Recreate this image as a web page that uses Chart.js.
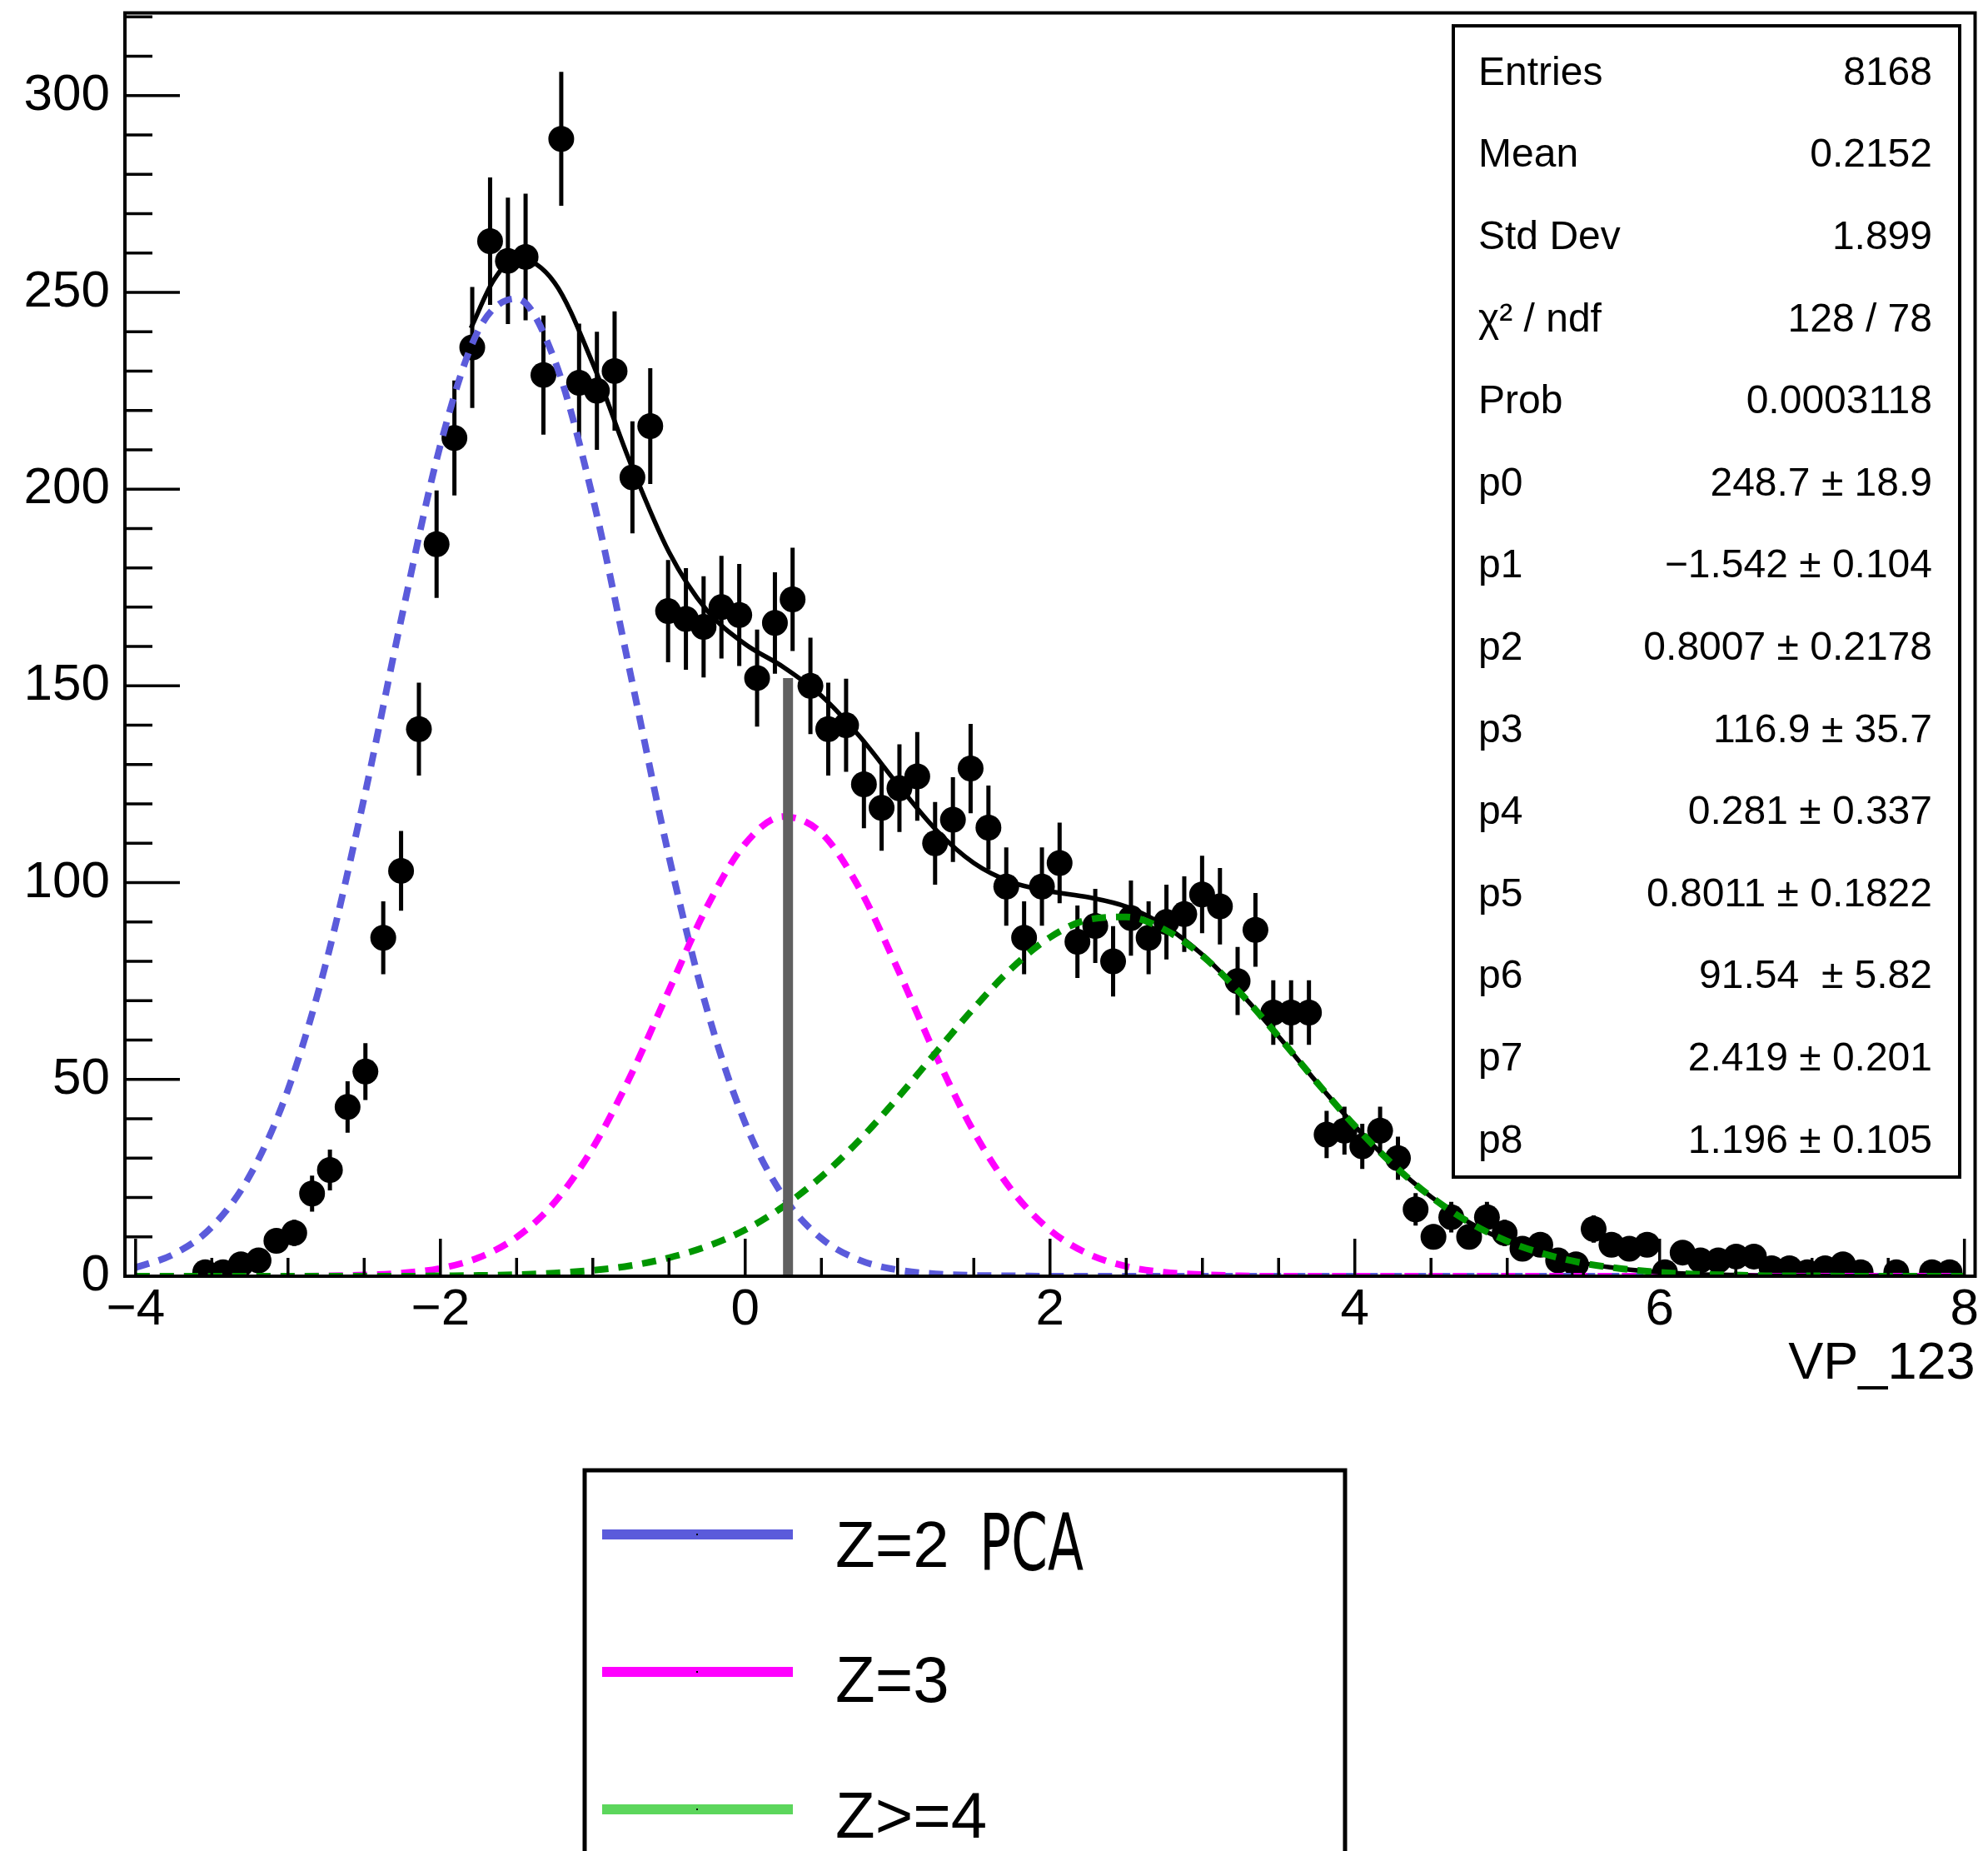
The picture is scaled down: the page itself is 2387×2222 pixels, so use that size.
<!DOCTYPE html>
<html>
<head>
<meta charset="utf-8">
<script src="https://cdn.jsdelivr.net/npm/chart.js@4.4.1/dist/chart.umd.min.js"></script>
<style>
html,body{margin:0;padding:0;background:#ffffff;overflow:hidden;}
canvas{display:block;}
</style>
</head>
<body>
<canvas id="c" width="2387" height="2222" style="width:2387px;height:2222px"></canvas>
<script>
// ---------- data ----------
const binCenters = [
 -3.543,-3.426,-3.309,-3.193,-3.076,-2.959,-2.842,-2.725,-2.609,-2.492,
 -2.375,-2.258,-2.141,-2.025,-1.908,-1.791,-1.674,-1.557,-1.441,-1.324,
 -1.207,-1.090,-0.973,-0.857,-0.740,-0.623,-0.506,-0.389,-0.273,-0.156,
 -0.039,0.078,0.195,0.311,0.428,0.545,0.662,0.779,0.895,1.012,
 1.129,1.246,1.363,1.479,1.596,1.713,1.830,1.947,2.063,2.180,
 2.297,2.414,2.531,2.647,2.764,2.881,2.998,3.115,3.231,3.348,
 3.465,3.582,3.699,3.815,3.932,4.049,4.166,4.283,4.399,4.516,
 4.633,4.750,4.867,4.983,5.100,5.217,5.334,5.451,5.567,5.684,
 5.801,5.918,6.035,6.151,6.268,6.385,6.502,6.619,6.735,6.852,
 6.969,7.086,7.203,7.319,7.436,7.553,7.670,7.787,7.903
];
const counts = [
 1,1,3,4,9,11,21,27,43,52,
 86,103,139,186,213,236,263,258,259,229,
 289,227,225,230,203,216,169,167,165,170,
 168,152,166,172,150,139,140,125,119,124,
 127,110,116,129,114,99,86,99,105,85,
 89,80,91,86,90,92,97,94,75,88,
 67,67,67,36,37,33,37,30,17,10,
 15,10,15,11,7,8,4,3,12,8,
 7,8,1,6,4,4,5,5,2,2,
 1,2,3,1,null,1,null,1,1
];

// dashed component curves, sampled along x
const curveX = [
 -4,-3.75,-3.5,-3.25,-3,-2.75,-2.5,-2.25,-2,-1.75,-1.5,-1.25,-1,-0.75,-0.5,-0.25,
 0,0.25,0.5,0.75,1,1.25,1.5,1.75,2,2.25,2.5,2.75,3,3.25,3.5,3.75,
 4,4.25,4.5,4.75,5,5.25,5.5,5.75,6,6.25,6.5,6.75,7,7.25,7.5,7.75,8
];
const curveZ2 = [
 2.2,5.6,12.5,25.6,47.4,79.7,121.6,168.2,211.2,240.4,248.4,232.7,197.8,152.5,106.6,67.7,
 38.9,20.3,9.6,4.1,1.6,0.6,0.2,0.1,0,0,0,0,0,0,0,0,
 0,0,0,0,0,0,0,0,0,0,0,0,0,0,0,0,0
];
const curveZ3 = [
 0,0,0,0,0,0.1,0.3,0.8,2.0,4.7,9.9,18.8,32.6,51.1,72.7,93.9,
 109.9,116.8,112.6,98.5,78.1,56.2,36.7,21.8,11.7,5.7,2.5,1.0,0.4,0.1,0,0,
 0,0,0,0,0,0,0,0,0,0,0,0,0,0,0,0,0
];
const curveZ4 = [
 0,0,0,0,0,0,0,0,0.1,0.2,0.4,0.8,1.5,2.7,4.7,7.6,
 11.8,17.7,25.3,34.6,45.3,56.8,68.1,78.3,86.1,90.6,91.3,88.1,81.4,71.9,60.9,49.3,
 38.2,28.4,20.2,13.7,8.9,5.6,3.3,1.9,1.0,0.5,0.3,0.1,0.1,0,0,0,0
];

// total fit (solid black)
const fitX = [
 -1.8,-1.65,-1.5,-1.25,-1,-0.75,-0.5,-0.25,0,0.25,0.5,0.75,1,1.25,1.5,1.75,
 2,2.25,2.5,2.75,3,3.25,3.5,3.75,4,4.25,4.5,4.75,5,5.25,5.5,5.75,
 6,6.25,6.5,6.75,7,7.25,7.5,7.75,8
];
const fitTotal = [
 240.9,253.1,258.7,252.4,231.9,206.3,184.0,169.1,160.6,154.8,147.5,137.2,125.0,113.5,105.0,100.1,
 97.8,96.3,93.9,89.1,81.7,72.0,60.9,49.3,38.2,28.4,20.2,13.7,8.9,5.6,3.3,1.9,
 1.0,0.5,0.3,0.1,0.1,0,0,0,0
];

// grey vertical marker
const markerX = [0.281, 0.281];
const markerY = [0, 152];

// axes
const xTicks = [-4, -2, 0, 2, 4, 6, 8];
const yTicks = [0, 50, 100, 150, 200, 250, 300];
const xTitle = 'VP_123';

// stats box
const statLabels = ['Entries','Mean','Std Dev','\u03c7\u00b2 / ndf','Prob','p0','p1','p2','p3','p4','p5','p6','p7','p8'];
const statValues = ['8168','0.2152','1.899','128 / 78','0.0003118',
 '248.7 \u00b1 18.9','\u22121.542 \u00b1 0.104','0.8007 \u00b1 0.2178','116.9 \u00b1 35.7',
 '0.281 \u00b1 0.337','0.8011 \u00b1 0.1822','91.54  \u00b1 5.82','2.419 \u00b1 0.201','1.196 \u00b1 0.105'];

// legend
const legendLabels = ['Z=2 PCA', 'Z=3', 'Z>=4'];
const legendColors = ['#5b5bdb', '#ff00ff', '#5cd65c'];

// ---------- drawing ----------
const FONT = "'Liberation Sans', Arial, Helvetica, sans-serif";
const fmtTick = v => (v < 0 ? '\u2212' + (-v) : String(v));
const toXY = (xa, ya) => xa.map((x, i) => ({x: x, y: ya[i]}));
const pointData = binCenters.map((x, i) => ({x: x, y: counts[i]})).filter(p => p.y !== null);
const DASH = [17, 12];

const rootPlugin = {
  id: 'rootStyle',
  beforeDatasetsDraw(chart) {
    const {ctx, chartArea: ca} = chart;
    const xs = chart.scales.x, ys = chart.scales.y;
    ctx.save();
    ctx.beginPath();
    ctx.rect(ca.left, ca.top, ca.right - ca.left, ca.bottom - ca.top);
    ctx.clip();
    ctx.strokeStyle = '#000';
    ctx.lineWidth = 5;
    binCenters.forEach((x, i) => {
      const n = counts[i];
      if (n === null) return;
      const e = Math.sqrt(n);
      const px = xs.getPixelForValue(x);
      ctx.beginPath();
      ctx.moveTo(px, ys.getPixelForValue(n - e));
      ctx.lineTo(px, ys.getPixelForValue(n + e));
      ctx.stroke();
    });
    ctx.restore();
  },
  afterDatasetsDraw(chart) {
    const {ctx, chartArea: ca} = chart;
    const xs = chart.scales.x, ys = chart.scales.y;
    ctx.save();
    // ticks
    ctx.strokeStyle = '#000';
    ctx.lineWidth = 3.5;
    for (let v = 0; v <= ys.max + 1e-9; v += 10) {
      const py = ys.getPixelForValue(v);
      const len = (v % 50 === 0) ? 66 : 33;
      ctx.beginPath(); ctx.moveTo(ca.left, py); ctx.lineTo(ca.left + len, py); ctx.stroke();
    }
    for (let v = -4; v <= 8 + 1e-9; v += 0.5) {
      const px = xs.getPixelForValue(v);
      const len = (Math.abs(v % 2) < 1e-9) ? 45 : 22;
      ctx.beginPath(); ctx.moveTo(px, ca.bottom); ctx.lineTo(px, ca.bottom - len); ctx.stroke();
    }
    // frame
    ctx.lineWidth = 4;
    ctx.strokeRect(ca.left, ca.top, ca.right - ca.left, ca.bottom - ca.top);

    // stats box
    const sb = {l: 1745, t: 31, r: 2353, b: 1413};
    ctx.fillStyle = '#fff';
    ctx.fillRect(sb.l, sb.t, sb.r - sb.l, sb.b - sb.t);
    ctx.lineWidth = 4;
    ctx.strokeRect(sb.l, sb.t, sb.r - sb.l, sb.b - sb.t);
    ctx.fillStyle = '#000';
    ctx.font = '48px ' + FONT;
    ctx.textBaseline = 'alphabetic';
    statLabels.forEach((lab, i) => {
      const by = 101.7 + i * 98.6;
      ctx.textAlign = 'left';
      ctx.fillText(lab, 1775, by);
      ctx.textAlign = 'right';
      ctx.fillText(statValues[i], 2320, by);
    });

    // legend box
    ctx.lineWidth = 5;
    ctx.strokeRect(702, 1765, 913, 540);
    const lineYs = [1842, 2007, 2172];
    const baseYs = [1881, 2043, 2206];
    legendLabels.forEach((lab, i) => {
      ctx.strokeStyle = legendColors[i];
      ctx.lineWidth = 12;
      ctx.beginPath(); ctx.moveTo(723, lineYs[i]); ctx.lineTo(952, lineYs[i]); ctx.stroke();
      ctx.fillStyle = '#000';
      ctx.fillRect(836, lineYs[i] - 1, 2, 2);
      const sp = lab.indexOf(' ');
      const first = sp >= 0 ? lab.slice(0, sp) : lab;
      const rest = sp >= 0 ? lab.slice(sp + 1) : '';
      ctx.textAlign = 'left';
      ctx.font = '78px ' + FONT;
      ctx.fillText(first, 1003, baseYs[i]);
      if (rest) {
        ctx.font = "95px 'Liberation Sans Narrow', 'DejaVu Sans Condensed', " + FONT;
        const w = ctx.measureText(rest).width;
        ctx.save();
        ctx.translate(1176, baseYs[i] + 4);
        ctx.scale(125 / w, 1);
        ctx.fillText(rest, 0, 0);
        ctx.restore();
      }
    });
    ctx.restore();
  }
};

new Chart(document.getElementById('c'), {
  type: 'scatter',
  data: {
    datasets: [
      {label: 'data', data: pointData, pointRadius: 15.5, pointHoverRadius: 15.5,
       backgroundColor: '#000', borderColor: '#000', borderWidth: 0, showLine: false, order: 10, clip: 0},
      {label: 'Z=2 PCA', data: toXY(curveX, curveZ2), showLine: true, borderColor: '#5b5bdb',
       borderWidth: 8, borderDash: DASH, borderCapStyle: 'butt', pointRadius: 0, cubicInterpolationMode: 'monotone', order: 4},
      {label: 'Z=3', data: toXY(curveX, curveZ3), showLine: true, borderColor: '#ff00ff',
       borderWidth: 8, borderDash: DASH, borderCapStyle: 'butt', pointRadius: 0, cubicInterpolationMode: 'monotone', order: 3},
      {label: 'fit', data: toXY(fitX, fitTotal), showLine: true, borderColor: '#000',
       borderWidth: 5.5, pointRadius: 0, cubicInterpolationMode: 'monotone', order: 2},
      {label: 'Z>=4', data: toXY(curveX, curveZ4), showLine: true, borderColor: '#009600',
       borderWidth: 8, borderDash: DASH, borderCapStyle: 'butt', pointRadius: 0, cubicInterpolationMode: 'monotone', order: 1},
      {label: 'p4', data: toXY(markerX, markerY), showLine: true, borderColor: '#606060',
       borderWidth: 12, pointRadius: 0, order: 0}
    ]
  },
  options: {
    responsive: false,
    animation: false,
    devicePixelRatio: 1,
    events: [],
    layout: {padding: {left: 0, right: 7, top: 15, bottom: 547}},
    plugins: {legend: {display: false}, tooltip: {enabled: false}, title: {display: false}},
    scales: {
      x: {
        type: 'linear', position: 'bottom', min: -4.07, max: 8.07,
        grid: {display: false, drawTicks: false}, border: {display: false},
        ticks: {color: '#000', font: {family: FONT, size: 62}, padding: 4, maxRotation: 0,
                autoSkip: false, includeBounds: false, callback: v => fmtTick(v)},
        afterBuildTicks: s => { s.ticks = xTicks.map(v => ({value: v})); },
        afterFit: s => { s.height = 143; s.paddingLeft = 0; s.paddingRight = 0; },
        title: {display: true, text: xTitle, align: 'end', color: '#000',
                font: {family: FONT, size: 63}, padding: 0}
      },
      y: {
        type: 'linear', position: 'left', min: 0, max: 321,
        grid: {display: false, drawTicks: false}, border: {display: false},
        ticks: {color: '#000', font: {family: FONT, size: 62}, padding: 18,
                autoSkip: false, includeBounds: false, callback: v => fmtTick(v)},
        afterBuildTicks: s => { s.ticks = yTicks.map(v => ({value: v})); },
        afterFit: s => { s.width = 150; s.paddingTop = 0; s.paddingBottom = 0; }
      }
    }
  },
  plugins: [rootPlugin]
});
</script>
</body>
</html>
